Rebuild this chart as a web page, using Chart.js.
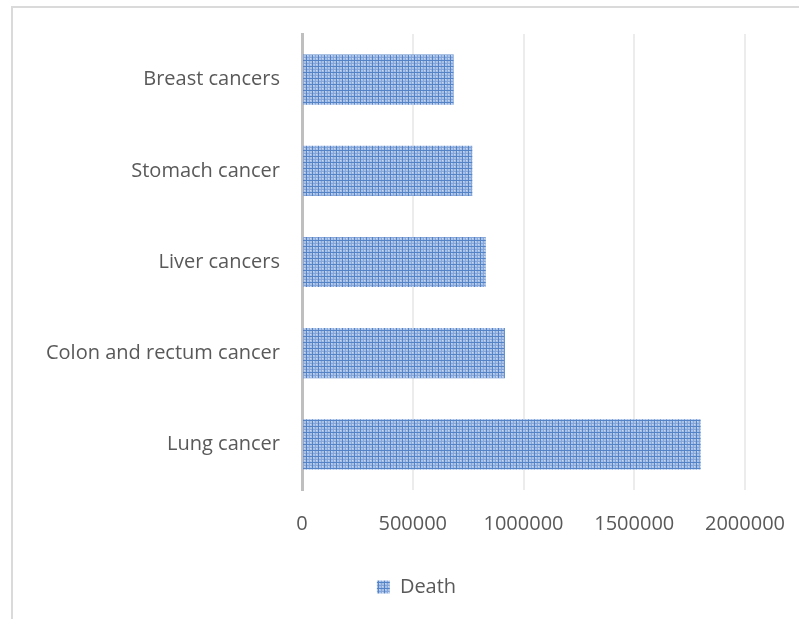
<!DOCTYPE html>
<html>
<head>
<meta charset="utf-8">
<script src="https://cdn.jsdelivr.net/npm/chart.js@4.4.1/dist/chart.umd.min.js"></script>
<style>
    html, body { margin: 0; padding: 0; background: #ffffff; }
    #wrap { position: relative; width: 799px; height: 619px; overflow: hidden; }
    #frame {
        position: absolute; left: 11px; top: 6px; width: 820px; height: 640px;
        border-left: 2px solid #dadada; border-top: 2px solid #dadada;
    }
    #deathChart { position: absolute; left: 0; top: 0; }
</style>
</head>
<body>
<div id="wrap">
    <div id="frame"></div>
    <canvas id="deathChart" width="799" height="619"></canvas>
</div>
<script>
// deaths per cancer type (top = first)
let cancerTypes = ["Breast cancers", "Stomach cancer", "Liver cancers", "Colon and rectum cancer", "Lung cancer"];
let deaths = [685000, 769000, 830000, 916000, 1800000];
let xTicks = [0, 500000, 1000000, 1500000, 2000000];

let textColor = "#595959";
let labelFont = { family: "'Open Sans'", size: 20 };

// small plaid tile for the bars
function makePlaid() {
    let tile = document.createElement("canvas");
    tile.width = 6;
    tile.height = 6;
    let g = tile.getContext("2d");
    g.fillStyle = "#a9c2e8";
    g.fillRect(0, 0, 6, 6);
    g.fillStyle = "#c9d8f0";
    g.fillRect(1, 1, 1, 1);
    g.fillRect(4, 4, 1, 1);
    g.fillStyle = "#86a6da";
    g.fillRect(3, 0, 1, 6);
    g.fillRect(0, 3, 6, 1);
    g.fillStyle = "#5583c8";
    g.fillRect(0, 0, 1, 6);
    g.fillRect(0, 0, 6, 1);
    return g.createPattern(tile, "repeat");
}

// nudge the legend a bit to the right of the plot centre
let legendShift = {
    id: "legendShift",
    afterLayout(chart) {
        chart.legend.left += 44;
        chart.legend.right += 44;
    }
};

let ctx = document.getElementById("deathChart").getContext("2d");
let plaid = makePlaid();

let chart = new Chart(ctx, {
    type: "bar",
    data: {
        labels: cancerTypes,
        datasets: [{
            label: "Death",
            data: deaths,
            backgroundColor: plaid,
            borderWidth: 0,
            categoryPercentage: 1,
            barPercentage: 0.55
        }]
    },
    plugins: [legendShift],
    options: {
        indexAxis: "y",
        responsive: false,
        animation: false,
        layout: { padding: { top: 34, right: 54, bottom: 12, left: 0 } },
        scales: {
            x: {
                min: 0,
                max: 2000000,
                afterBuildTicks: function (scale) {
                    scale.ticks = xTicks.map(v => ({ value: v }));
                },
                afterFit: function (scale) {
                    scale.height = 77;
                    scale.paddingLeft = 0;
                    scale.paddingRight = 0;
                },
                border: { display: false },
                grid: { color: "#ececec", lineWidth: 2, drawTicks: false },
                ticks: {
                    color: textColor,
                    font: labelFont,
                    padding: 22,
                    maxRotation: 0,
                    callback: v => String(v)
                }
            },
            y: {
                afterFit: function (scale) { scale.width = 302; },
                border: { display: true, color: "#bfbfbf", width: 3 },
                grid: { display: false, drawTicks: false },
                ticks: { color: textColor, font: labelFont, padding: 22 }
            }
        },
        plugins: {
            tooltip: { enabled: false },
            legend: {
                position: "bottom",
                labels: {
                    color: textColor,
                    font: labelFont,
                    boxWidth: 13,
                    boxHeight: 13,
                    padding: 10
                }
            }
        }
    }
});
</script>
</body>
</html>
